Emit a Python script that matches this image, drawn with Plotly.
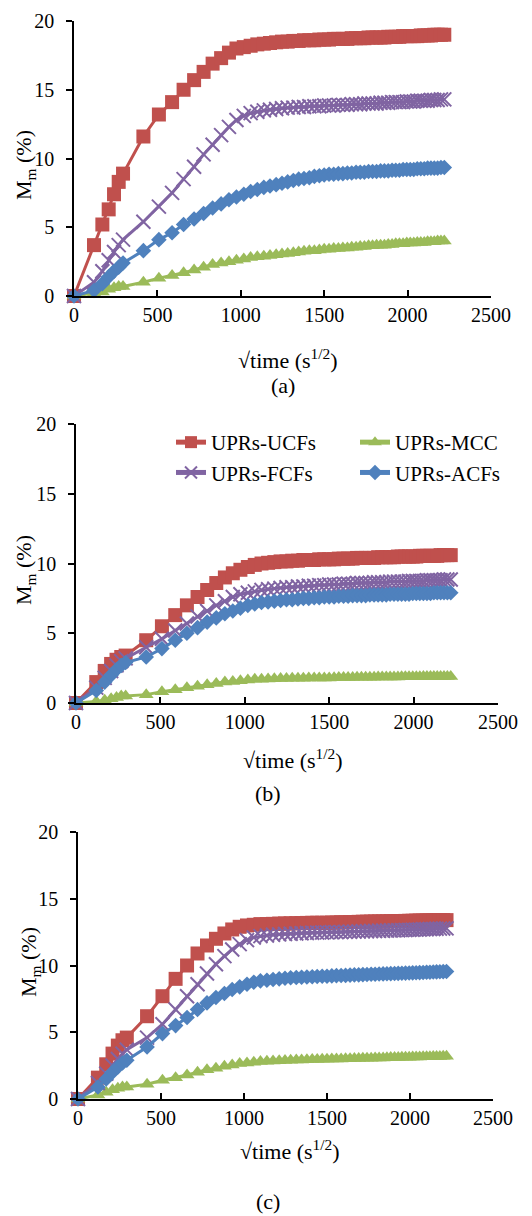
import plotly.graph_objects as go

# sqrt(time) positions (s^1/2)
x_vals = [0, 120, 170, 208, 240, 268, 294, 416, 509, 588, 657, 720, 777, 831, 882, 929, 974, 1018, 1059, 1099,
          1138, 1175, 1212, 1247, 1281, 1315, 1347, 1379, 1411, 1441, 1471, 1500,
          1529, 1557, 1585, 1612, 1639, 1665, 1691, 1716, 1741, 1766, 1790, 1814, 1838,
          1861, 1884, 1907, 1929, 1951, 1973, 1995, 2016, 2037, 2058, 2079, 2100, 2120, 2140, 2160, 2180, 2200, 2220]

series_names = ["UPRs-UCFs", "UPRs-MCC", "UPRs-FCFs", "UPRs-ACFs"]

# Panel (a)
a_ucf = [0, 3.7, 5.2, 6.3, 7.4, 8.3, 8.9, 11.6, 13.2, 14.1, 15.0, 15.7, 16.3, 16.9, 17.3, 17.7, 18.0, 18.1, 18.2, 18.3,
         18.35, 18.4, 18.45, 18.5, 18.5, 18.55, 18.55, 18.6, 18.6, 18.6, 18.65, 18.65,
         18.65, 18.7, 18.7, 18.7, 18.7, 18.75, 18.75, 18.75, 18.75, 18.8, 18.8, 18.8, 18.8,
         18.8, 18.85, 18.85, 18.85, 18.85, 18.9, 18.9, 18.9, 18.9, 18.9, 18.95, 18.95, 18.95, 18.95, 19.0, 19.0, 19.0, 19.0]
a_fcf = [0, 1.0, 1.8, 2.6, 3.2, 3.7, 4.1, 5.4, 6.5, 7.5, 8.5, 9.4, 10.3, 11.0, 11.7, 12.3, 12.8, 13.1, 13.3, 13.4,
         13.5, 13.55, 13.6, 13.65, 13.7, 13.7, 13.75, 13.75, 13.8, 13.8, 13.8, 13.85,
         13.85, 13.85, 13.9, 13.9, 13.9, 13.95, 13.95, 13.95, 14.0, 14.0, 14.0, 14.0, 14.05,
         14.05, 14.05, 14.1, 14.1, 14.1, 14.1, 14.15, 14.15, 14.15, 14.2, 14.2, 14.2, 14.2, 14.25, 14.25, 14.25, 14.3, 14.3]
a_acf = [0, 0.4, 0.9, 1.4, 1.8, 2.1, 2.4, 3.3, 4.1, 4.6, 5.2, 5.6, 6.0, 6.4, 6.7, 7.0, 7.2, 7.4, 7.6, 7.75,
         7.9, 8.0, 8.1, 8.2, 8.3, 8.4, 8.5, 8.55, 8.6, 8.7, 8.75, 8.8,
         8.85, 8.85, 8.9, 8.9, 8.95, 8.95, 9.0, 9.0, 9.0, 9.05, 9.05, 9.05, 9.1,
         9.1, 9.1, 9.15, 9.15, 9.15, 9.2, 9.2, 9.2, 9.2, 9.25, 9.25, 9.25, 9.3, 9.3, 9.3, 9.3, 9.35, 9.35]
a_mcc = [0, 0.2, 0.3, 0.5, 0.6, 0.7, 0.7, 1.0, 1.3, 1.5, 1.7, 1.9, 2.1, 2.3, 2.4, 2.5, 2.6, 2.7, 2.8, 2.85,
         2.9, 2.95, 3.0, 3.05, 3.1, 3.15, 3.2, 3.25, 3.3, 3.3, 3.35, 3.4,
         3.4, 3.45, 3.45, 3.5, 3.5, 3.55, 3.55, 3.6, 3.6, 3.65, 3.65, 3.7, 3.7,
         3.7, 3.75, 3.75, 3.8, 3.8, 3.8, 3.85, 3.85, 3.85, 3.9, 3.9, 3.9, 3.95, 3.95, 3.95, 4.0, 4.0, 4.0]

# Panel (b)
b_ucf = [0, 1.5, 2.3, 2.8, 3.1, 3.3, 3.4, 4.5, 5.5, 6.3, 7.0, 7.6, 8.1, 8.6, 9.0, 9.3, 9.55, 9.75, 9.9, 10.0,
         10.05, 10.1, 10.15, 10.15, 10.2, 10.2, 10.25, 10.25, 10.25, 10.3, 10.3, 10.3,
         10.3, 10.35, 10.35, 10.35, 10.35, 10.4, 10.4, 10.4, 10.4, 10.4, 10.45, 10.45, 10.45,
         10.45, 10.45, 10.5, 10.5, 10.5, 10.5, 10.5, 10.5, 10.55, 10.55, 10.55, 10.55, 10.55, 10.55, 10.6, 10.6, 10.6, 10.6]
b_fcf = [0, 1.1, 1.8, 2.3, 2.7, 3.0, 3.2, 4.0, 4.6, 5.2, 5.7, 6.2, 6.6, 7.0, 7.3, 7.6, 7.8, 7.9, 8.0, 8.1,
         8.15, 8.2, 8.25, 8.3, 8.3, 8.35, 8.35, 8.4, 8.4, 8.45, 8.45, 8.5,
         8.5, 8.5, 8.55, 8.55, 8.55, 8.6, 8.6, 8.6, 8.6, 8.65, 8.65, 8.65, 8.65,
         8.7, 8.7, 8.7, 8.7, 8.7, 8.75, 8.75, 8.75, 8.75, 8.75, 8.8, 8.8, 8.8, 8.8, 8.8, 8.85, 8.85, 8.85]
b_acf = [0, 0.9, 1.5, 2.0, 2.4, 2.7, 2.9, 3.3, 3.9, 4.5, 5.0, 5.4, 5.8, 6.1, 6.4, 6.6, 6.8, 7.0, 7.1, 7.2,
         7.25, 7.3, 7.35, 7.4, 7.4, 7.45, 7.5, 7.5, 7.55, 7.55, 7.6, 7.6,
         7.6, 7.65, 7.65, 7.65, 7.7, 7.7, 7.7, 7.7, 7.75, 7.75, 7.75, 7.75, 7.75,
         7.8, 7.8, 7.8, 7.8, 7.8, 7.8, 7.85, 7.85, 7.85, 7.85, 7.85, 7.85, 7.9, 7.9, 7.9, 7.9, 7.9, 7.9]
b_mcc = [0, 0.1, 0.2, 0.3, 0.4, 0.5, 0.5, 0.6, 0.8, 0.95, 1.1, 1.2, 1.3, 1.4, 1.5, 1.55, 1.6, 1.65, 1.7, 1.7,
         1.72, 1.74, 1.75, 1.76, 1.77, 1.78, 1.78, 1.79, 1.8, 1.8, 1.8, 1.8,
         1.81, 1.82, 1.82, 1.83, 1.83, 1.84, 1.84, 1.85, 1.85, 1.85, 1.86, 1.86, 1.86,
         1.87, 1.87, 1.87, 1.88, 1.88, 1.88, 1.89, 1.89, 1.89, 1.9, 1.9, 1.9, 1.9, 1.9, 1.9, 1.9, 1.9, 1.9]

# Panel (c)
c_ucf = [0, 1.6, 2.6, 3.4, 4.0, 4.4, 4.6, 6.2, 7.7, 9.0, 10.0, 10.9, 11.5, 12.0, 12.4, 12.7, 12.9, 13.0, 13.05, 13.1,
         13.1, 13.12, 13.14, 13.15, 13.16, 13.17, 13.18, 13.19, 13.2, 13.2, 13.2, 13.2,
         13.22, 13.22, 13.24, 13.24, 13.25, 13.26, 13.27, 13.28, 13.28, 13.29, 13.3, 13.3, 13.3,
         13.31, 13.32, 13.32, 13.33, 13.33, 13.34, 13.35, 13.35, 13.36, 13.37, 13.37, 13.38, 13.38, 13.39, 13.4, 13.4, 13.4, 13.4]
c_fcf = [0, 1.2, 1.9, 2.5, 3.0, 3.4, 3.7, 4.6, 5.6, 6.7, 7.7, 8.6, 9.4, 10.1, 10.7, 11.2, 11.6, 11.9, 12.1, 12.2,
         12.25, 12.3, 12.33, 12.36, 12.38, 12.4, 12.42, 12.44, 12.45, 12.46, 12.47, 12.48,
         12.49, 12.5, 12.5, 12.52, 12.53, 12.54, 12.55, 12.56, 12.57, 12.58, 12.59, 12.6, 12.6,
         12.61, 12.62, 12.63, 12.64, 12.65, 12.66, 12.67, 12.68, 12.69, 12.7, 12.71, 12.72, 12.73, 12.74, 12.75, 12.76, 12.77, 12.78]
c_acf = [0, 0.9, 1.5, 2.0, 2.4, 2.7, 2.9, 3.9, 4.9, 5.5, 6.1, 6.7, 7.2, 7.6, 7.9, 8.2, 8.4, 8.6, 8.75, 8.85,
         8.9, 8.95, 9.0, 9.05, 9.08, 9.1, 9.12, 9.14, 9.16, 9.18, 9.2, 9.2,
         9.22, 9.24, 9.25, 9.26, 9.28, 9.3, 9.3, 9.32, 9.33, 9.34, 9.35, 9.36, 9.37,
         9.38, 9.39, 9.4, 9.41, 9.42, 9.43, 9.44, 9.45, 9.46, 9.47, 9.48, 9.49, 9.5, 9.51, 9.52, 9.53, 9.54, 9.55]
c_mcc = [0, 0.3, 0.5, 0.7, 0.8, 0.9, 0.9, 1.1, 1.4, 1.6, 1.8, 2.0, 2.2, 2.3, 2.45, 2.55, 2.65, 2.7, 2.75, 2.8,
         2.82, 2.84, 2.86, 2.88, 2.9, 2.92, 2.93, 2.94, 2.95, 2.96, 2.97, 2.98,
         2.99, 3.0, 3.0, 3.01, 3.02, 3.03, 3.04, 3.05, 3.05, 3.06, 3.07, 3.08, 3.08,
         3.09, 3.1, 3.1, 3.11, 3.12, 3.12, 3.13, 3.14, 3.14, 3.15, 3.16, 3.16, 3.17, 3.18, 3.18, 3.19, 3.2, 3.2]

panel_labels = ["(a)", "(b)", "(c)"]
x_ticks = [0, 500, 1000, 1500, 2000, 2500]
y_ticks = [0, 5, 10, 15, 20]

panels = [
    {"UPRs-UCFs": a_ucf, "UPRs-MCC": a_mcc, "UPRs-FCFs": a_fcf, "UPRs-ACFs": a_acf},
    {"UPRs-UCFs": b_ucf, "UPRs-MCC": b_mcc, "UPRs-FCFs": b_fcf, "UPRs-ACFs": b_acf},
    {"UPRs-UCFs": c_ucf, "UPRs-MCC": c_mcc, "UPRs-FCFs": c_fcf, "UPRs-ACFs": c_acf},
]

W, H = 532, 1216
FONT = "Liberation Serif"

styles = {
    "UPRs-UCFs": dict(color="#C0504D", symbol="square", size=14, lw=0),
    "UPRs-MCC": dict(color="#9BBB59", symbol="triangle-up", size=13, lw=0),
    "UPRs-FCFs": dict(color="#8064A2", symbol="x-thin-open", size=14, lw=2),
    "UPRs-ACFs": dict(color="#4F81BD", symbol="diamond", size=12, lw=0),
}

# pixel geometry of each panel: (x_left, x_right, y_top, y_bottom)
geo = [(74, 491, 21, 296), (76, 498, 424, 703), (78, 493, 832, 1099)]
xtitle_pos = [(288, 359), (293, 759), (290, 1150)]
label_pos = [(283, 386), (268, 793), (268, 1201)]
ytitle_pos = [(25, 165), (25, 570), (30, 962)]

fig = go.Figure()
for i, data in enumerate(panels):
    xa = "x" if i == 0 else f"x{i+1}"
    ya = "y" if i == 0 else f"y{i+1}"
    for name in series_names:
        st = styles[name]
        marker = dict(symbol=st["symbol"], size=st["size"], color=st["color"])
        if st["lw"]:
            marker["line"] = dict(width=st["lw"], color=st["color"])
        else:
            marker["line"] = dict(width=0)
        fig.add_trace(go.Scatter(
            x=x_vals, y=data[name], name=name, mode="lines+markers",
            line=dict(color=st["color"], width=3), marker=marker,
            xaxis=xa, yaxis=ya, cliponaxis=False, showlegend=(i == 1),
        ))

layout = dict(width=W, height=H, margin=dict(l=0, r=0, t=0, b=0, autoexpand=False),
              paper_bgcolor="white", plot_bgcolor="white",
              font=dict(family=FONT, size=20, color="black"))
annotations = []
for i, (xl, xr, yt, yb) in enumerate(geo):
    sfx = "" if i == 0 else str(i + 1)
    layout["xaxis" + sfx] = dict(
        domain=[xl / W, xr / W], range=[0, 2500], tickvals=x_ticks,
        showline=True, linecolor="black", linewidth=1.5, ticks="inside", ticklen=6,
        tickwidth=1.5, tickcolor="black", showgrid=False, zeroline=False,
        anchor="y" + sfx, tickfont=dict(size=20, family=FONT), fixedrange=True)
    layout["yaxis" + sfx] = dict(
        domain=[1 - yb / H, 1 - yt / H], range=[0, 20], tickvals=y_ticks,
        showline=True, linecolor="black", linewidth=1.5, ticks="outside", ticklen=6,
        tickwidth=1.5, tickcolor="black", showgrid=False, zeroline=False,
        anchor="x" + sfx, tickfont=dict(size=20, family=FONT), ticklabelstandoff=8,
        fixedrange=True)
    tx, ty = xtitle_pos[i]
    annotations.append(dict(text="√time (s<sup>1/2</sup>)", x=tx / W, y=1 - ty / H,
                            xref="paper", yref="paper", showarrow=False,
                            font=dict(size=22, family=FONT), xanchor="center", yanchor="middle"))
    lx, ly = label_pos[i]
    annotations.append(dict(text=panel_labels[i], x=lx / W, y=1 - ly / H,
                            xref="paper", yref="paper", showarrow=False,
                            font=dict(size=22, family=FONT), xanchor="center", yanchor="middle"))
    yx, yy = ytitle_pos[i]
    annotations.append(dict(text="M<sub>m</sub> (%)", x=yx / W, y=1 - yy / H,
                            xref="paper", yref="paper", showarrow=False, textangle=-90,
                            font=dict(size=22, family=FONT), xanchor="center", yanchor="middle"))

layout["annotations"] = annotations
layout["legend"] = dict(x=171 / W, y=1 - 422 / H, xanchor="left", yanchor="top",
                        orientation="h", entrywidth=139, entrywidthmode="pixels",
                        bgcolor="rgba(0,0,0,0)", font=dict(size=21, family=FONT),
                        itemsizing="constant", traceorder="normal")
fig.update_layout(**layout)
fig.write_html("out.html")
